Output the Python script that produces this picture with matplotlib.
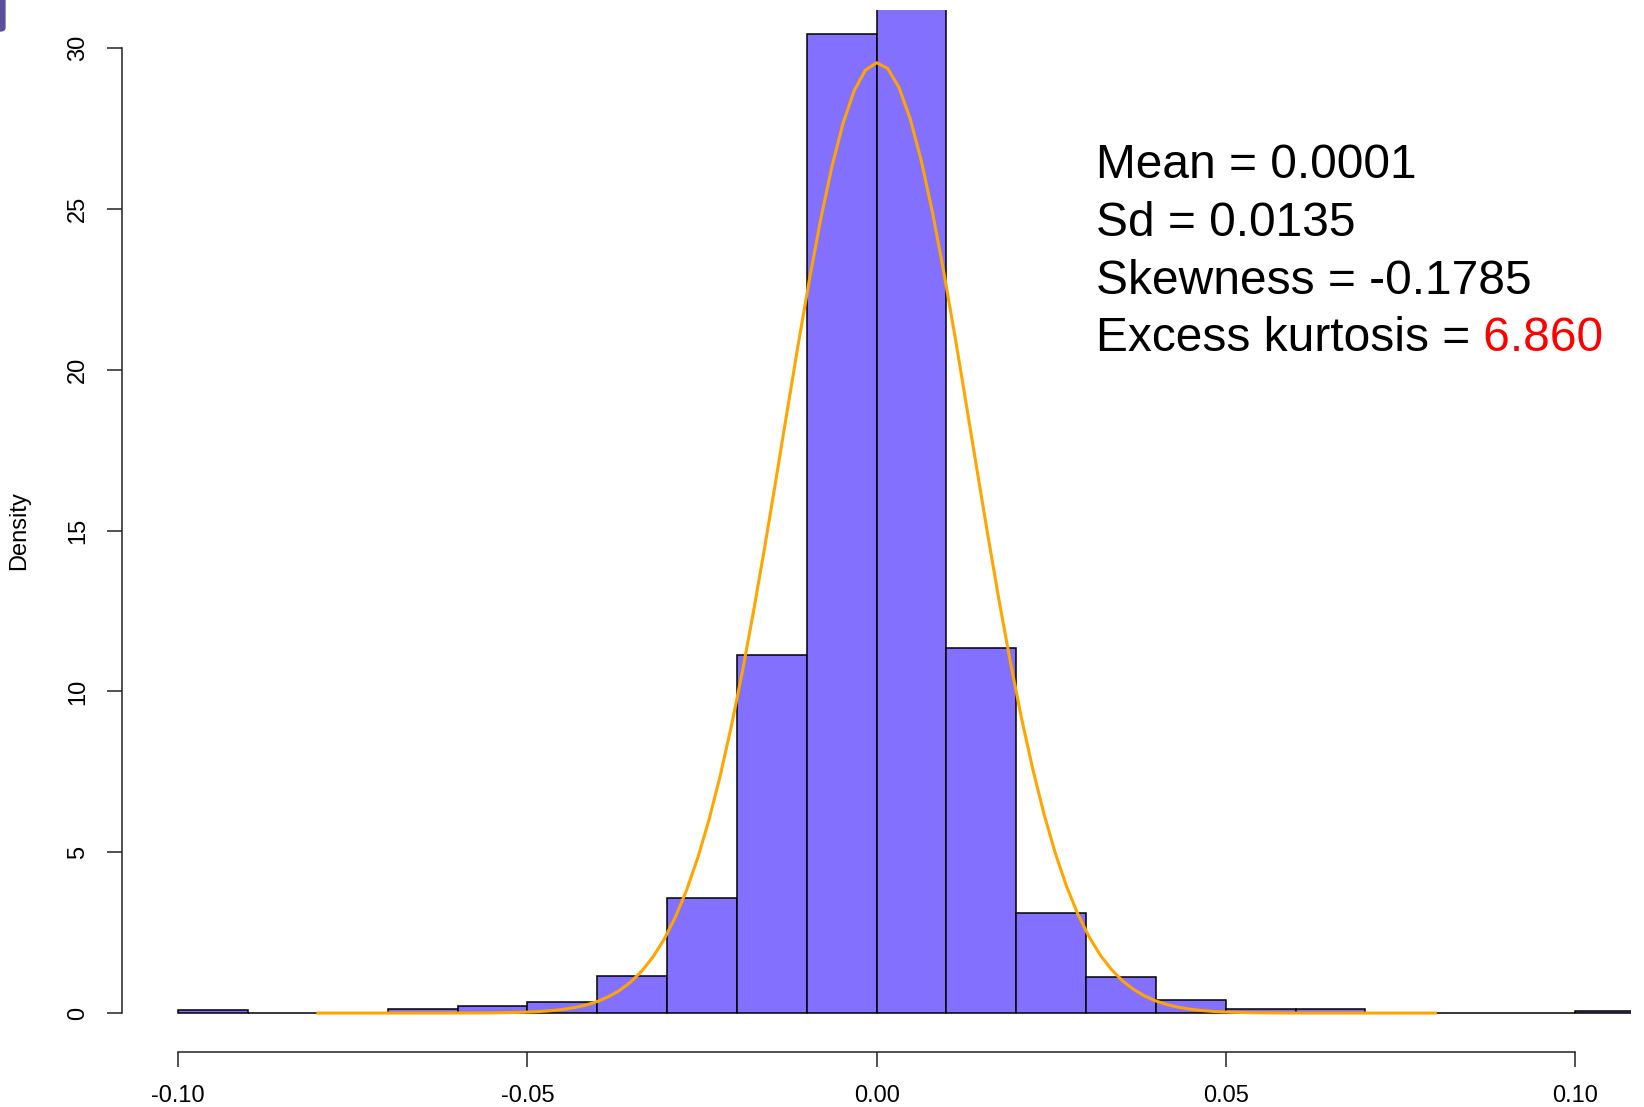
import numpy as np
import matplotlib.pyplot as plt
from matplotlib.patches import FancyBboxPatch

plt.rcParams['font.family'] = ['Liberation Sans', 'DejaVu Sans']

# histogram (density scale), bins of width 0.01
bin_left = np.round(np.arange(-0.10, 0.11, 0.01), 2)
density = [0.10, 0.00, 0.00, 0.13, 0.23, 0.33, 1.14, 3.59, 11.12, 30.45,
           33.00, 11.35, 3.10, 1.11, 0.42, 0.13, 0.13, 0.00, 0.00, 0.00, 0.05]

# fitted normal, parameters as printed on the chart
mean_ret = 0.0001
sd_ret = 0.0135
stats_lines = ["Mean = 0.0001", "Sd = 0.0135", "Skewness = -0.1785"]
kurt_label = "Excess kurtosis ="
kurt_value = "6.860"

x_ticks = [-0.10, -0.05, 0.00, 0.05, 0.10]
x_ticklabels = ["-0.10", "-0.05", "0.00", "0.05", "0.10"]
y_ticks = [0, 5, 10, 15, 20, 25, 30]

fig = plt.figure(figsize=(16.44, 11.07), dpi=100)
ax = fig.add_axes([0.0744, 0.050, 0.9176, 0.9413])

ax.bar(bin_left, density, width=0.01, align='edge',
       color='#8470FF', edgecolor='black', linewidth=1.1)

xs = np.linspace(-0.08, 0.08, 101)
ys = np.exp(-0.5 * ((xs - mean_ret) / sd_ret) ** 2) / (sd_ret * np.sqrt(2 * np.pi))
ax.plot(xs, ys, color='orange', linewidth=2.2)

# R-like axes
ax.set_xlim(-0.108, 0.108)
ax.set_ylim(-1.2, 31.2)
for s in ['top', 'right']:
    ax.spines[s].set_visible(False)
ax.spines['left'].set_bounds(0, 30)
ax.spines['bottom'].set_bounds(-0.10, 0.10)
for s in ['left', 'bottom']:
    ax.spines[s].set_linewidth(1.1)
    ax.spines[s].set_color('#222222')

ax.set_xticks(x_ticks)
ax.set_xticklabels(x_ticklabels)
ax.set_yticks(y_ticks)
ax.set_yticklabels([str(v) for v in y_ticks], rotation=90, va='center')
ax.tick_params(axis='both', direction='out', length=11, width=1.1,
               color='#222222', labelsize=17)
ax.tick_params(axis='x', pad=13)
ax.tick_params(axis='y', pad=13)
ax.set_ylabel("Density", fontsize=17)
ax.yaxis.set_label_coords(-0.061, 0.5)

# summary statistics text
ypos = [178, 236, 293.6]
for line, yp in zip(stats_lines, ypos):
    fig.text(0.6665, 1 - yp / 1107, line, fontsize=34.5, va='baseline', ha='left')
t = fig.text(0.6665, 1 - 351 / 1107, kurt_label, fontsize=34.5,
             va='baseline', ha='left')
ax.annotate(" " + kurt_value, xy=(1, 0), xycoords=t, va='bottom', ha='left',
            fontsize=34.5, color='red')

# slide artefact in the top-left corner
fig.patches.append(FancyBboxPatch((-0.004, 0.972), 0.007, 0.03,
                                  boxstyle="round,pad=0,rounding_size=0.003",
                                  transform=fig.transFigure, color='#5a4f9a'))

fig.savefig("out.png", dpi=100)
